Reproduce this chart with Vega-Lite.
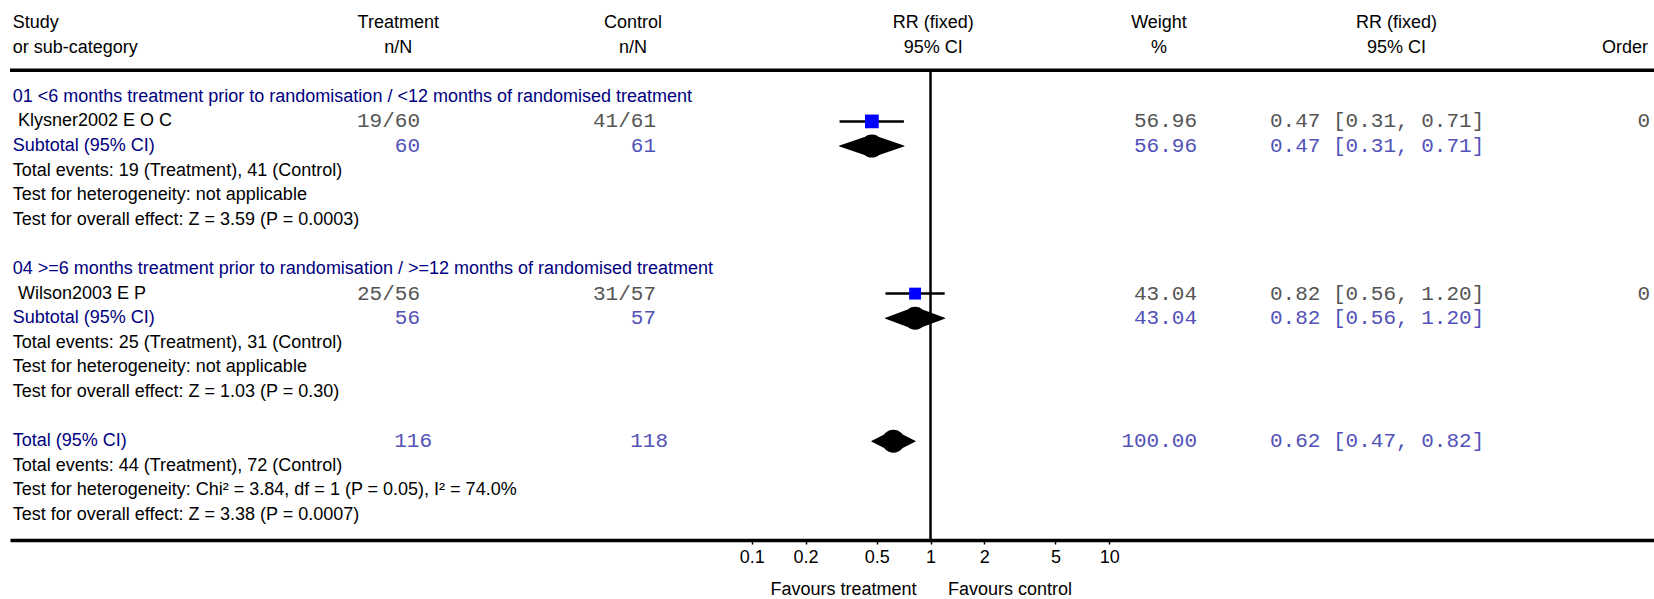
{
  "$schema": "https://vega.github.io/schema/vega-lite/v6.json",
  "width": 1644,
  "height": 540,
  "autosize": {"type": "none"},
  "padding": {"left": 10, "top": 0, "right": 0, "bottom": 59},
  "background": "white",
  "config": {"view": {"stroke": null}},
  "datasets": {
    "rows": [
      {"row": -3, "kind": "header", "study": "Study", "treat": "Treatment", "ctrl": "Control", "rr": "RR (fixed)", "weight": "Weight", "ci": "RR (fixed)"},
      {"row": -2, "kind": "header", "study": "or sub-category", "treat": "n/N", "ctrl": "n/N", "rr": "95% CI", "weight": "%", "ci": "95% CI", "order": "Order"},
      {"row": 0, "kind": "group", "study": "01 <6 months treatment prior to randomisation / <12 months of randomised treatment"},
      {"row": 1, "kind": "study", "study": "Klysner2002 E O C", "treat": "19/60", "ctrl": "41/61", "weight": "56.96", "ci": "0.47 [0.31, 0.71]", "order": "0", "est": 0.47, "lo": 0.31, "hi": 0.71, "w": 56.96},
      {"row": 2, "kind": "subtotal", "study": "Subtotal (95% CI)", "treat": "60", "ctrl": "61", "weight": "56.96", "ci": "0.47 [0.31, 0.71]", "est": 0.47, "lo": 0.31, "hi": 0.71},
      {"row": 3, "kind": "note", "study": "Total events: 19 (Treatment), 41 (Control)"},
      {"row": 4, "kind": "note", "study": "Test for heterogeneity: not applicable"},
      {"row": 5, "kind": "note", "study": "Test for overall effect: Z = 3.59 (P = 0.0003)"},
      {"row": 7, "kind": "group", "study": "04 >=6 months treatment prior to randomisation / >=12 months of randomised treatment"},
      {"row": 8, "kind": "study", "study": "Wilson2003 E P", "treat": "25/56", "ctrl": "31/57", "weight": "43.04", "ci": "0.82 [0.56, 1.20]", "order": "0", "est": 0.82, "lo": 0.56, "hi": 1.2, "w": 43.04},
      {"row": 9, "kind": "subtotal", "study": "Subtotal (95% CI)", "treat": "56", "ctrl": "57", "weight": "43.04", "ci": "0.82 [0.56, 1.20]", "est": 0.82, "lo": 0.56, "hi": 1.2},
      {"row": 10, "kind": "note", "study": "Total events: 25 (Treatment), 31 (Control)"},
      {"row": 11, "kind": "note", "study": "Test for heterogeneity: not applicable"},
      {"row": 12, "kind": "note", "study": "Test for overall effect: Z = 1.03 (P = 0.30)"},
      {"row": 14, "kind": "total", "study": "Total (95% CI)", "treat": "116", "ctrl": "118", "weight": "100.00", "ci": "0.62 [0.47, 0.82]", "est": 0.62, "lo": 0.47, "hi": 0.82},
      {"row": 15, "kind": "note", "study": "Total events: 44 (Treatment), 72 (Control)"},
      {"row": 16, "kind": "note", "study": "Test for heterogeneity: Chi² = 3.84, df = 1 (P = 0.05), I² = 74.0%"},
      {"row": 17, "kind": "note", "study": "Test for overall effect: Z = 3.38 (P = 0.0007)"}
    ]
  },
  "data": {"name": "rows"},
  "resolve": {"scale": {"x": "independent"}},
  "layer": [
    {
      "layer": [
        {
          "data": {"values": [{"line": "header rule"}]},
          "mark": {"type": "rule", "color": "black", "strokeWidth": 3.5},
          "encoding": {
            "y": {"datum": -1.077, "type": "quantitative", "scale": {"domain": [-3.935, 18.016], "reverse": true, "nice": false, "zero": false}, "axis": null}
          }
        },
        {
          "transform": [
            {"filter": "datum.kind == 'subtotal' || datum.kind == 'total'"},
            {"fold": ["lo", "est", "hi"], "as": ["vertex", "rr"]}
          ],
          "mark": {"type": "trail", "color": "black"},
          "encoding": {
            "x": {"field": "rr", "type": "quantitative", "scale": {"type": "log", "domain": [7.108e-6, 11127], "nice": false},
              "axis": {"values": [0.1, 0.2, 0.5, 1, 2, 5, 10], "format": "~g", "title": null, "grid": false, "domainColor": "black", "domainWidth": 3.5, "tickColor": "black", "tickWidth": 1.5, "tickSize": 4, "labelFont": "Liberation Sans", "labelFontSize": 18, "labelColor": "black", "labelPadding": 4, "labelOverlap": false, "labelFlush": false, "labelBound": false}},
            "y": {"field": "row", "type": "quantitative"},
            "detail": {"field": "row", "type": "nominal"},
            "order": {"field": "rr", "type": "quantitative"},
            "size": {"condition": {"test": "datum.vertex == 'est'", "value": 23}, "value": 0}
          }
        },
        {
          "data": {"values": [{"line": "no effect"}]},
          "mark": {"type": "rule", "color": "black", "strokeWidth": 2.5},
          "encoding": {
            "x": {"datum": 1, "type": "quantitative"},
            "y": {"datum": -1.077, "type": "quantitative"},
            "y2": {"datum": 18.016}
          }
        },
        {
          "transform": [{"filter": "datum.kind == 'study'"}],
          "mark": {"type": "rule", "color": "black", "strokeWidth": 2.5},
          "encoding": {
            "x": {"field": "lo", "type": "quantitative"},
            "x2": {"field": "hi"},
            "y": {"field": "row", "type": "quantitative"}
          }
        },
        {
          "transform": [{"filter": "datum.kind == 'study'"}],
          "mark": {"type": "point", "shape": "square", "filled": true, "color": "#0000ff", "opacity": 1},
          "encoding": {
            "x": {"field": "est", "type": "quantitative"},
            "y": {"field": "row", "type": "quantitative"},
            "size": {"field": "w", "type": "quantitative", "scale": {"domain": [0, 100], "range": [0, 330]}, "legend": null}
          }
        },
        {
          "data": {"values": [{"label": "Favours treatment"}]},
          "mark": {"type": "text", "align": "right", "baseline": "middle", "dx": -14, "font": "Liberation Sans", "fontSize": 18, "color": "black"},
          "encoding": {
            "x": {"datum": 1, "type": "quantitative"},
            "y": {"datum": 20.05, "type": "quantitative"},
            "text": {"field": "label"}
          }
        },
        {
          "data": {"values": [{"label": "Favours control"}]},
          "mark": {"type": "text", "align": "left", "baseline": "middle", "dx": 17.5, "font": "Liberation Sans", "fontSize": 18, "color": "black"},
          "encoding": {
            "x": {"datum": 1, "type": "quantitative"},
            "y": {"datum": 20.05, "type": "quantitative"},
            "text": {"field": "label"}
          }
        }
      ]
    },
    {
      "layer": [
        {
          "transform": [{"filter": "datum.kind != 'study'"}],
          "mark": {"type": "text", "align": "left", "baseline": "middle", "font": "Liberation Sans", "fontSize": 18},
          "encoding": {
            "x": {"datum": 12.7, "type": "quantitative", "scale": {"domain": [10, 1654], "nice": false, "zero": false}, "axis": null},
            "y": {"field": "row", "type": "quantitative"},
            "text": {"field": "study"},
            "color": {"condition": {"test": "datum.kind == 'group' || datum.kind == 'subtotal' || datum.kind == 'total'", "value": "#000080"}, "value": "black"}
          }
        },
        {
          "transform": [{"filter": "datum.kind == 'study'"}],
          "mark": {"type": "text", "align": "left", "baseline": "middle", "font": "Liberation Sans", "fontSize": 18, "color": "black"},
          "encoding": {
            "x": {"datum": 18, "type": "quantitative"},
            "y": {"field": "row", "type": "quantitative"},
            "text": {"field": "study"}
          }
        },
        {
          "transform": [{"filter": "datum.kind == 'study' || datum.kind == 'subtotal'"}],
          "mark": {"type": "text", "align": "right", "baseline": "middle", "font": "Liberation Mono", "fontSize": 21},
          "encoding": {
            "x": {"datum": 420, "type": "quantitative"},
            "y": {"field": "row", "type": "quantitative"},
            "text": {"field": "treat"},
            "color": {"condition": {"test": "datum.kind == 'study'", "value": "#555555"}, "value": "#5252b8"}
          }
        },
        {
          "transform": [{"filter": "datum.kind == 'total'"}],
          "mark": {"type": "text", "align": "right", "baseline": "middle", "font": "Liberation Mono", "fontSize": 21, "dx": 12, "color": "#5252b8"},
          "encoding": {
            "x": {"datum": 420, "type": "quantitative"},
            "y": {"field": "row", "type": "quantitative"},
            "text": {"field": "treat"}
          }
        },
        {
          "transform": [{"filter": "datum.kind == 'study' || datum.kind == 'subtotal'"}],
          "mark": {"type": "text", "align": "right", "baseline": "middle", "font": "Liberation Mono", "fontSize": 21},
          "encoding": {
            "x": {"datum": 656, "type": "quantitative"},
            "y": {"field": "row", "type": "quantitative"},
            "text": {"field": "ctrl"},
            "color": {"condition": {"test": "datum.kind == 'study'", "value": "#555555"}, "value": "#5252b8"}
          }
        },
        {
          "transform": [{"filter": "datum.kind == 'total'"}],
          "mark": {"type": "text", "align": "right", "baseline": "middle", "font": "Liberation Mono", "fontSize": 21, "dx": 12, "color": "#5252b8"},
          "encoding": {
            "x": {"datum": 656, "type": "quantitative"},
            "y": {"field": "row", "type": "quantitative"},
            "text": {"field": "ctrl"}
          }
        },
        {
          "transform": [{"filter": "datum.kind == 'study' || datum.kind == 'subtotal' || datum.kind == 'total'"}],
          "mark": {"type": "text", "align": "right", "baseline": "middle", "font": "Liberation Mono", "fontSize": 21},
          "encoding": {
            "x": {"datum": 1197, "type": "quantitative"},
            "y": {"field": "row", "type": "quantitative"},
            "text": {"field": "weight"},
            "color": {"condition": {"test": "datum.kind == 'study'", "value": "#555555"}, "value": "#5252b8"}
          }
        },
        {
          "transform": [{"filter": "datum.kind == 'study' || datum.kind == 'subtotal' || datum.kind == 'total'"}],
          "mark": {"type": "text", "align": "left", "baseline": "middle", "font": "Liberation Mono", "fontSize": 21},
          "encoding": {
            "x": {"datum": 1270, "type": "quantitative"},
            "y": {"field": "row", "type": "quantitative"},
            "text": {"field": "ci"},
            "color": {"condition": {"test": "datum.kind == 'study'", "value": "#555555"}, "value": "#5252b8"}
          }
        },
        {
          "transform": [{"filter": "datum.kind == 'study'"}],
          "mark": {"type": "text", "align": "right", "baseline": "middle", "font": "Liberation Mono", "fontSize": 21, "color": "#555555"},
          "encoding": {
            "x": {"datum": 1650, "type": "quantitative"},
            "y": {"field": "row", "type": "quantitative"},
            "text": {"field": "order"}
          }
        },
        {
          "transform": [{"filter": "datum.kind == 'header'"}],
          "mark": {"type": "text", "align": "center", "baseline": "middle", "font": "Liberation Sans", "fontSize": 18, "color": "black"},
          "encoding": {
            "x": {"datum": 398.3, "type": "quantitative"},
            "y": {"field": "row", "type": "quantitative"},
            "text": {"field": "treat"}
          }
        },
        {
          "transform": [{"filter": "datum.kind == 'header'"}],
          "mark": {"type": "text", "align": "center", "baseline": "middle", "font": "Liberation Sans", "fontSize": 18, "color": "black"},
          "encoding": {
            "x": {"datum": 633, "type": "quantitative"},
            "y": {"field": "row", "type": "quantitative"},
            "text": {"field": "ctrl"}
          }
        },
        {
          "transform": [{"filter": "datum.kind == 'header'"}],
          "mark": {"type": "text", "align": "center", "baseline": "middle", "font": "Liberation Sans", "fontSize": 18, "color": "black"},
          "encoding": {
            "x": {"datum": 933.2, "type": "quantitative"},
            "y": {"field": "row", "type": "quantitative"},
            "text": {"field": "rr"}
          }
        },
        {
          "transform": [{"filter": "datum.kind == 'header'"}],
          "mark": {"type": "text", "align": "center", "baseline": "middle", "font": "Liberation Sans", "fontSize": 18, "color": "black"},
          "encoding": {
            "x": {"datum": 1159, "type": "quantitative"},
            "y": {"field": "row", "type": "quantitative"},
            "text": {"field": "weight"}
          }
        },
        {
          "transform": [{"filter": "datum.kind == 'header'"}],
          "mark": {"type": "text", "align": "center", "baseline": "middle", "font": "Liberation Sans", "fontSize": 18, "color": "black"},
          "encoding": {
            "x": {"datum": 1396.5, "type": "quantitative"},
            "y": {"field": "row", "type": "quantitative"},
            "text": {"field": "ci"}
          }
        },
        {
          "transform": [{"filter": "datum.kind == 'header' && datum.order"}],
          "mark": {"type": "text", "align": "right", "baseline": "middle", "font": "Liberation Sans", "fontSize": 18, "color": "black"},
          "encoding": {
            "x": {"datum": 1648, "type": "quantitative"},
            "y": {"field": "row", "type": "quantitative"},
            "text": {"field": "order"}
          }
        }
      ]
    }
  ]
}
